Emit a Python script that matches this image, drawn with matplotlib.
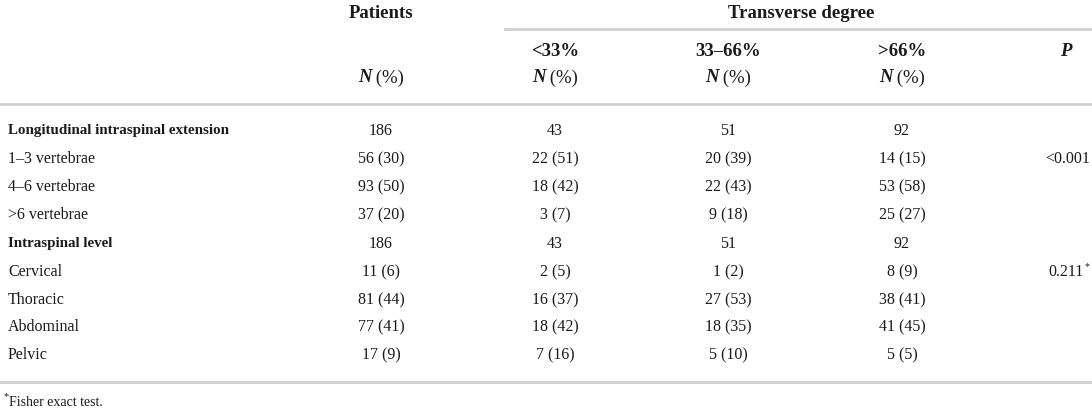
import matplotlib.pyplot as plt

plt.rcParams['font.family'] = ['Liberation Serif', 'DejaVu Serif']

# table contents
row_labels = ['Longitudinal intraspinal extension', '1–3 vertebrae', '4–6 vertebrae', '>6 vertebrae',
              'Intraspinal level', 'Cervical', 'Thoracic', 'Abdominal', 'Pelvic']
bold_rows = [0, 4]
patients = ['186', '56 (30)', '93 (50)', '37 (20)', '186', '11 (6)', '81 (44)', '77 (41)', '17 (9)']
lt33 = ['43', '22 (51)', '18 (42)', '3 (7)', '43', '2 (5)', '16 (37)', '18 (42)', '7 (16)']
mid = ['51', '20 (39)', '22 (43)', '9 (18)', '51', '1 (2)', '27 (53)', '18 (35)', '5 (10)']
gt66 = ['92', '14 (15)', '53 (58)', '25 (27)', '92', '8 (9)', '38 (41)', '41 (45)', '5 (5)']
pvals = ['', '<0.001', '', '', '', '0.211*', '', '', '']
sub_heads = ['<33%', '33–66%', '>66%']

W, H = 1092, 414
fig = plt.figure(figsize=(W / 100, H / 100), dpi=100)
ax = fig.add_axes([0, 0, 1, 1])
ax.set_xlim(0, W)
ax.set_ylim(H, 0)
ax.axis('off')

col_x = [381, 555, 728, 902]
p_x = 1066
row_y = [131, 159, 187, 215, 244, 272, 300, 327, 355]
fs = 11.5
hfs = 13.5
line_col = '#cfcfcf'
txt_col = '#1a1a1a'

# rules
ax.plot([0, W], [105, 105], color=line_col, lw=2)
ax.plot([0, W], [383, 383], color=line_col, lw=2)
ax.plot([505, W], [30, 30], color=line_col, lw=2)

# spanner headers
ax.text(col_x[0], 14, 'Patients', ha='center', va='center', fontsize=hfs, fontweight='bold', color=txt_col)
ax.text(801, 14, 'Transverse degree', ha='center', va='center', fontsize=hfs, fontweight='bold', color=txt_col)
for x, s in zip(col_x[1:], sub_heads):
    ax.text(x, 52, s, ha='center', va='center', fontsize=hfs, fontweight='bold', color=txt_col)
ax.text(p_x, 52, 'P', ha='center', va='center', fontsize=hfs, fontweight='bold', style='italic', color=txt_col)

fig.canvas.draw()
r = fig.canvas.get_renderer()


def n_pct(x, y):
    a = ax.text(0, y, 'N', ha='left', va='center', fontsize=hfs, fontweight='bold', style='italic', color=txt_col)
    b = ax.text(0, y, ' (%)', ha='left', va='center', fontsize=hfs, color=txt_col)
    wa = a.get_window_extent(r).width
    wb = b.get_window_extent(r).width
    left = x - (wa + wb) / 2
    a.set_x(left)
    b.set_x(left + wa)


for x in col_x:
    n_pct(x, 78)

# body
for i, lab in enumerate(row_labels):
    y = row_y[i]
    if i in bold_rows:
        ax.text(8, y, lab, ha='left', va='center', fontsize=10.8, color=txt_col, fontweight='bold')
    else:
        ax.text(8, y, lab, ha='left', va='center', fontsize=fs, color=txt_col)
    for x, col in zip(col_x, [patients, lt33, mid, gt66]):
        ax.text(x, y, col[i], ha='center', va='center', fontsize=fs, color=txt_col)
    p = pvals[i]
    if p.endswith('*'):
        t = ax.text(p_x, y, p[:-1], ha='center', va='center', fontsize=fs, color=txt_col)
        bb = t.get_window_extent(r)
        ax.text(p_x + bb.width / 2 + 0.5, y - 5, '*', ha='left', va='center', fontsize=7, color=txt_col)
    elif p:
        ax.text(p_x + 2, y, p, ha='center', va='center', fontsize=fs, color=txt_col)

# footnote
ax.text(4, 397, '*', ha='left', va='center', fontsize=7.5, color=txt_col)
ax.text(9, 403, 'Fisher exact test.', ha='left', va='center', fontsize=10, color=txt_col)

fig.savefig('out.png', dpi=100)
